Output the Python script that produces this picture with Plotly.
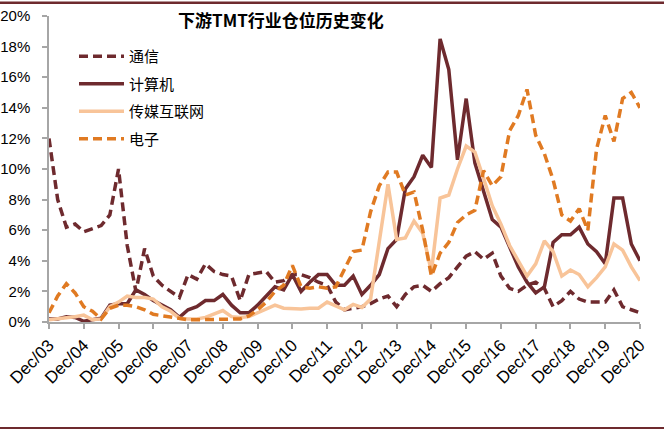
import plotly.graph_objects as go

# ---------------- data (quarterly, Dec/03 .. Dec/20, values in %) ----------------
months = ["Dec", "Mar", "Jun", "Sep"]
quarters = []
for i in range(69):
    m = months[i % 4]
    yr = 3 + (i + 3) // 4
    quarters.append(f"{m}/{yr:02d}")

tick_labels = ["Dec/03", "Dec/04", "Dec/05", "Dec/06", "Dec/07", "Dec/08", "Dec/09",
               "Dec/10", "Dec/11", "Dec/12", "Dec/13", "Dec/14", "Dec/15", "Dec/16",
               "Dec/17", "Dec/18", "Dec/19", "Dec/20"]

y_tick_vals = [0, 2, 4, 6, 8, 10, 12, 14, 16, 18, 20]
y_tick_text = ["0%", "2%", "4%", "6%", "8%", "10%", "12%", "14%", "16%", "18%", "20%"]

telecom = [12.0, 8.0, 6.2, 6.4, 5.9, 6.1, 6.3, 7.0, 10.0, 5.0,
           2.0, 4.8, 3.0, 2.4, 2.0, 1.6, 3.1, 2.8, 3.8, 3.3,
           3.1, 3.0, 1.4, 3.1, 3.2, 3.3, 2.6, 2.7, 3.1, 3.1,
           2.9, 2.6, 2.4, 1.3, 0.8, 0.9, 1.0, 1.2, 1.5, 1.7,
           1.0, 1.8, 2.3, 2.4, 2.0, 2.5, 2.9, 3.6, 4.3, 4.6,
           4.1, 4.5, 3.0, 2.2, 2.0, 2.4, 2.6, 2.2, 1.0, 1.4,
           2.0, 1.5, 1.3, 1.3, 1.3, 2.1, 1.0, 0.8, 0.6]

computer = [0.2, 0.2, 0.35, 0.3, 0.05, 0.15, 0.25, 1.1, 1.2, 1.2,
            2.1, 1.8, 1.4, 1.1, 0.8, 0.3, 0.8, 1.0, 1.4, 1.4,
            1.8, 1.1, 0.6, 0.6, 1.1, 1.7, 2.3, 2.1, 3.1, 2.0,
            2.6, 3.1, 3.1, 2.4, 2.4, 3.0, 1.8, 2.4, 3.1, 4.8,
            5.4, 8.7, 9.5, 10.9, 10.1, 18.5, 16.5, 10.6, 14.6, 10.4,
            8.6, 6.7, 6.2, 4.9, 3.6, 2.6, 1.9, 2.3, 5.2, 5.7,
            5.7, 6.2, 5.1, 4.6, 3.8, 8.1, 8.1, 5.1, 4.0]

media = [0.15, 0.2, 0.25, 0.35, 0.45, 0.15, 0.2, 1.0, 1.3, 1.7,
         1.6, 1.6, 1.5, 1.0, 0.7, 0.25, 0.2, 0.2, 0.3, 0.5,
         0.75, 0.35, 0.3, 0.35, 0.6, 0.8, 1.1, 0.9, 0.85, 0.85,
         0.9, 0.9, 1.3, 1.05, 0.8, 1.15, 0.95, 1.5, 5.2, 9.0,
         5.4, 5.5, 6.6, 5.8, 3.3, 8.1, 8.3, 10.0, 11.5, 11.1,
         9.4, 7.6, 6.4, 5.0, 4.0, 3.0, 3.8, 5.3, 4.6, 3.0,
         3.4, 3.1, 2.3, 2.9, 3.6, 5.1, 4.7, 3.6, 2.7]

electronics = [0.6, 1.7, 2.5, 1.9, 1.0, 0.7, 0.2, 0.9, 1.1, 1.1,
               1.0, 0.8, 0.5, 0.4, 0.3, 0.2, 0.15, 0.15, 0.15, 0.15,
               0.15, 0.15, 0.2, 0.4, 0.8, 1.3, 2.0, 2.4, 3.7, 2.3,
               2.2, 2.3, 2.2, 2.3, 3.5, 4.6, 4.7, 7.2, 8.9, 9.8,
               9.8, 8.3, 8.5, 6.0, 3.0, 4.5, 5.2, 6.5, 7.0, 7.3,
               9.9, 8.9, 9.5, 12.5, 13.5, 15.2, 12.2, 11.0, 9.3, 7.0,
               6.6, 7.4, 6.0, 11.3, 13.5, 11.8, 14.6, 15.0, 14.0]

series_names = ["通信", "计算机", "传媒互联网", "电子"]
series_values = [telecom, computer, media, electronics]
series_colors = ["#6E2A2E", "#6E2A2E", "#F8C499", "#E07A22"]
series_dash = ["9px,5px", "solid", "solid", "9px,5px"]

title_text = "下游TMT行业仓位历史变化"

# ---------------- figure ----------------
W, H = 664, 430
ML, MR, MT, MB = 49, 24, 16, 108
PW, PH = W - ML - MR, H - MT - MB

fig = go.Figure()
for i, (name, vals, col, dash) in enumerate(zip(series_names, series_values, series_colors, series_dash)):
    fig.add_trace(go.Scatter(
        x=quarters, y=vals, name=name, mode="lines",
        line=dict(color=col, width=3.5, dash=dash),
        legendgroup=f"g{i}",
    ))

axis_col = "#A6A6A6"
fig.update_layout(
    width=W, height=H,
    margin=dict(l=ML, r=MR, t=MT, b=MB, autoexpand=False),
    paper_bgcolor="white", plot_bgcolor="white",
    font=dict(family="Liberation Sans, Arial, sans-serif", size=15, color="black"),
    title=dict(text=title_text, x=281 / W, xanchor="center", y=1 - 21 / H, yanchor="middle",
               font=dict(family="Noto Sans CJK SC", size=17, color="black", weight="bold")),
    showlegend=True,
    legend=dict(x=(74 - ML) / PW, xanchor="left", y=(322 - 40) / PH, yanchor="top",
                bgcolor="rgba(0,0,0,0)", tracegroupgap=5, itemwidth=45,
                font=dict(family="Noto Sans CJK SC", size=15, color="black")),
    xaxis=dict(
        type="category", range=[0, 68], automargin=False,
        tickmode="array", tickvals=tick_labels, ticktext=tick_labels,
        tickangle=-45, ticks="outside", ticklen=5, tickcolor=axis_col, tickwidth=1.5,
        showline=True, linecolor=axis_col, linewidth=1.5, showgrid=False, zeroline=False,
        tickfont=dict(size=17),
    ),
    yaxis=dict(
        range=[0, 20], automargin=False,
        tickmode="array", tickvals=y_tick_vals, ticktext=y_tick_text,
        ticks="outside", ticklen=5, tickcolor=axis_col, tickwidth=1.5,
        ticklabelstandoff=9,
        showline=True, linecolor=axis_col, linewidth=1.5, showgrid=False, zeroline=False,
        tickfont=dict(size=15),
    ),
)

# decorative border bands at top and bottom of the image
for ytop, ybot in ((1.5, 4.0), (427, 429)):
    fig.add_shape(type="rect", xref="paper", yref="paper", layer="above",
                  x0=-ML / PW, x1=1 + MR / PW,
                  y0=(H - MB - ybot) / PH, y1=(H - MB - ytop) / PH,
                  fillcolor="#6E2A2E", line=dict(width=0))

fig.write_html("out.html", config={"displayModeBar": False},
               post_script="document.body.style.margin='0';")
